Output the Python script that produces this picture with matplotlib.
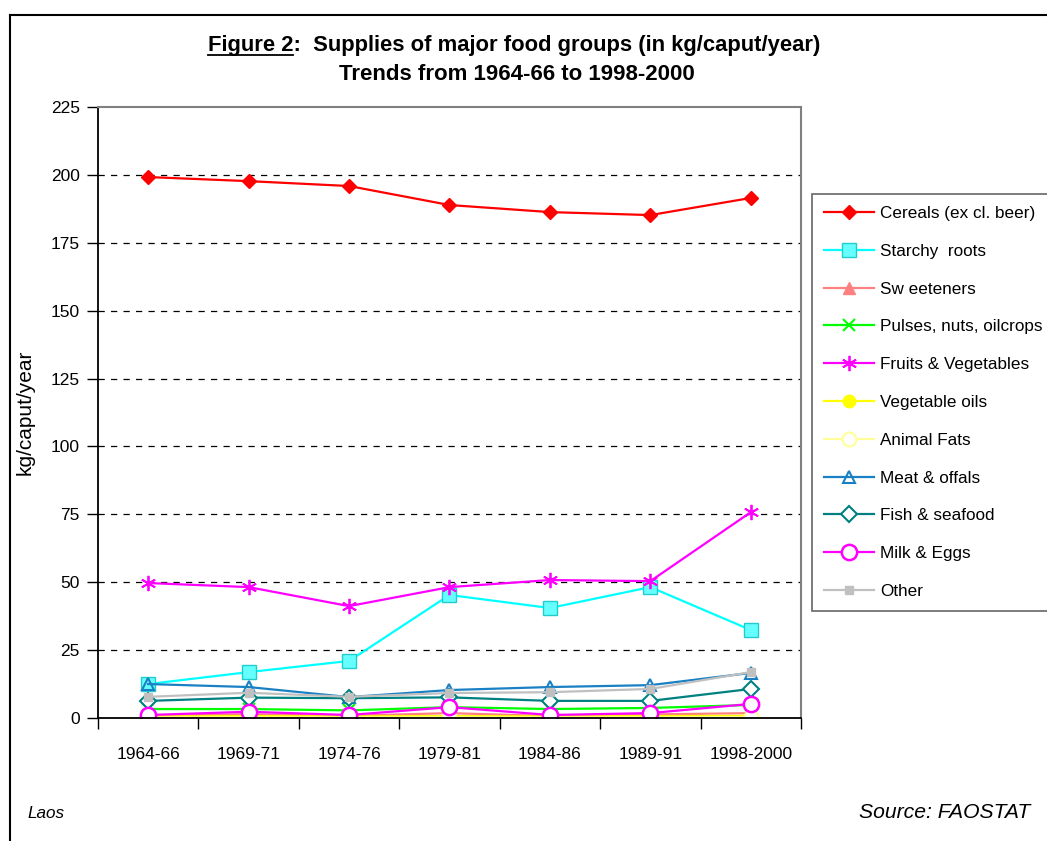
import numpy as np
import matplotlib
matplotlib.use('Agg')
import matplotlib.pyplot as plt
from matplotlib.lines import Line2D

plt.rcParams['font.family'] = ['Liberation Sans', 'DejaVu Sans']

periods = ['1964-66', '1969-71', '1974-76', '1979-81', '1984-86', '1989-91', '1998-2000']

cereals = [199.2, 197.7, 195.9, 188.9, 186.3, 185.2, 191.5]
starchy_roots = [12.5, 16.9, 21.0, 45.3, 40.5, 48.2, 32.4]
sweeteners = [0.8, 1.4, 0.8, 1.8, 0.7, 1.3, 1.8]
pulses = [3.3, 3.3, 2.8, 4.0, 3.3, 3.7, 4.8]
fruits_veg = [49.7, 48.2, 41.2, 48.2, 50.8, 50.4, 75.8]
veg_oils = [0.6, 0.7, 0.6, 0.7, 0.6, 0.7, 0.8]
animal_fats = [0.2, 0.2, 0.2, 0.2, 0.2, 0.2, 0.3]
meat = [12.5, 11.4, 7.7, 10.3, 11.4, 12.1, 16.6]
fish = [6.3, 7.5, 7.3, 7.6, 6.3, 6.3, 10.7]
milk_eggs = [1.1, 2.3, 1.1, 4.0, 1.1, 1.8, 5.2]
other = [7.8, 9.3, 7.8, 9.2, 9.5, 10.7, 16.9]

series = [
    ('Cereals (ex cl. beer)', cereals, dict(color='#FF0000', marker='D', ms=7.5, mfc='#FF0000', mec='#FF0000')),
    ('Starchy  roots', starchy_roots, dict(color='#00FFFF', marker='s', ms=10, mfc='#66FFFF', mec='#22CCCC')),
    ('Sw eeteners', sweeteners, dict(color='#FF8080', marker='^', ms=8, mfc='#FF8080', mec='#FF8080')),
    ('Pulses, nuts, oilcrops', pulses, dict(color='#00FF00', marker='x', ms=8, mew=1.5)),
    ('Fruits & Vegetables', fruits_veg, dict(color='#FF00FF', marker=(6, 2, 0), ms=11, mew=1.3)),
    ('Vegetable oils', veg_oils, dict(color='#FFFF00', marker='o', ms=9, mfc='#FFFF00', mec='#FFFF00')),
    ('Animal Fats', animal_fats, dict(color='#FFFF99', marker='o', ms=10, mfc='white', mec='#FFFF99', mew=1.5)),
    ('Meat & offals', meat, dict(color='#1A80C4', marker='^', ms=9, mfc='none', mec='#1A80C4', mew=1.5)),
    ('Fish & seafood', fish, dict(color='#008080', marker='D', ms=8, mfc='white', mec='#008080', mew=1.5)),
    ('Milk & Eggs', milk_eggs, dict(color='#FF00FF', marker='o', ms=11, mfc='white', mec='#FF00FF', mew=1.8)),
    ('Other', other, dict(color='#C0C0C0', marker='s', ms=6, mfc='#C0C0C0', mec='#C0C0C0')),
]

fig = plt.figure(figsize=(10.47, 8.41), dpi=100)
ax = fig.add_axes([98 / 1047, 1 - 718 / 841, 703 / 1047, 611 / 841])

x = np.arange(len(periods))
for name, vals, style in series:
    ax.plot(x, vals, label=name, lw=1.6, **style)

ax.set_xlim(-0.5, len(periods) - 0.5)
ax.set_ylim(0, 225)
ax.set_yticks(np.arange(0, 226, 25))
for y in range(25, 225, 25):
    ax.axhline(y, color='black', lw=0.9, dashes=(5, 5), zorder=0)

ax.set_xticks(x)
ax.set_xticklabels(periods, fontsize=12.5)
ax.tick_params(axis='x', which='major', length=0, pad=21)
ax.set_xticks(np.arange(-0.5, len(periods), 1), minor=True)
ax.tick_params(axis='x', which='minor', length=8, width=1, direction='out')
ax.tick_params(axis='y', length=8, width=1, direction='out', labelsize=12.5, pad=5)
ax.set_ylabel('kg/caput/year', fontsize=15, labelpad=12)

for s in ['top', 'right']:
    ax.spines[s].set_color('#808080')
    ax.spines[s].set_linewidth(1.5)
for s in ['left', 'bottom']:
    ax.spines[s].set_color('black')
    ax.spines[s].set_linewidth(1.3)

leg = fig.legend(loc='upper left', bbox_to_anchor=(812 / 1047, 1 - 194 / 841),
                 fontsize=12.3, frameon=True, fancybox=False, edgecolor='#404040',
                 handlelength=2.9, handletextpad=0.4, labelspacing=1.335,
                 borderpad=0.7, borderaxespad=0)
leg.get_frame().set_linewidth(1.2)

# title, with "Figure 2" underlined
t1 = fig.text(514 / 1047, 1 - 45 / 841, 'Figure 2:  Supplies of major food groups (in kg/caput/year)',
              ha='center', va='center', fontsize=15.8, fontweight='bold')
fig.text(517 / 1047, 1 - 74 / 841, 'Trends from 1964-66 to 1998-2000',
         ha='center', va='center', fontsize=16, fontweight='bold')
r = fig.canvas.get_renderer()
bb = t1.get_window_extent(r)
tmp = fig.text(0, 0, 'Figure 2', fontsize=15.8, fontweight='bold')
w = tmp.get_window_extent(r).width
tmp.remove()
yline = (bb.y0 + 1) / fig.bbox.height
fig.add_artist(Line2D([bb.x0 / fig.bbox.width, (bb.x0 + w) / fig.bbox.width], [yline, yline],
                      color='black', lw=1.3))

fig.text(27 / 1047, 1 - 813 / 841, 'Laos', ha='left', va='center', fontsize=12.3, style='italic')
fig.text(1030 / 1047, 1 - 813 / 841, 'Source: FAOSTAT', ha='right', va='center', fontsize=15.2, style='italic')

# outer frame (top and left only visible)
fig.add_artist(Line2D([10 / 1047, 1.0], [1 - 15 / 841, 1 - 15 / 841], color='black', lw=1.5))
fig.add_artist(Line2D([10 / 1047, 10 / 1047], [0, 1 - 15 / 841], color='black', lw=1.5))

fig.savefig('out.png', dpi=100)
